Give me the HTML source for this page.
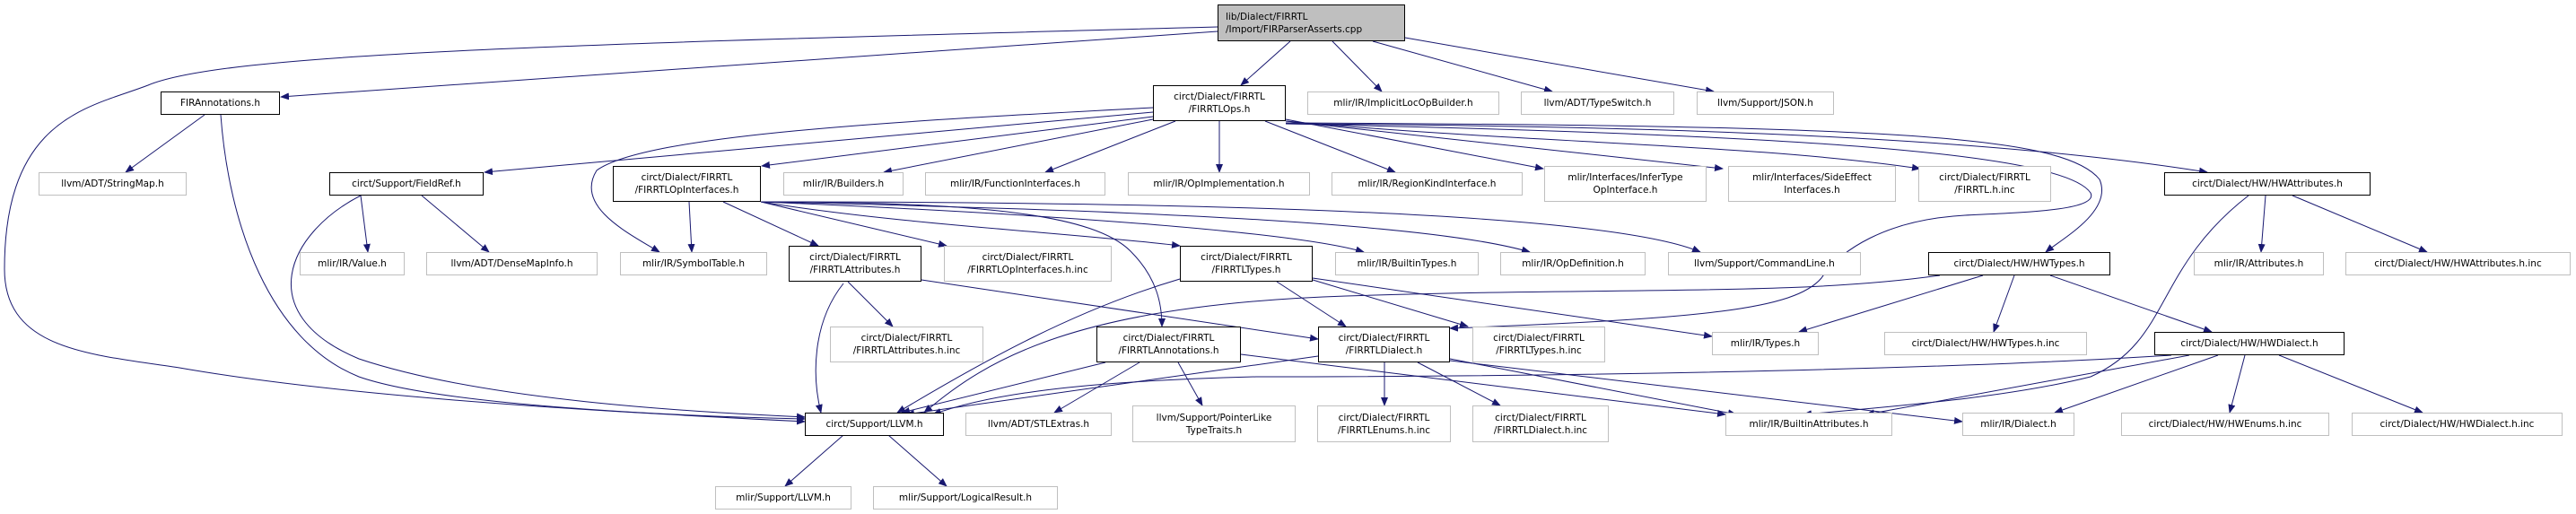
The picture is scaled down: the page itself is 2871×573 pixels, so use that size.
<!DOCTYPE html>
<html><head><meta charset="utf-8"><style>
html,body{margin:0;padding:0;background:#fff;}
#c{position:relative;width:2871px;height:573px;overflow:hidden;font-family:"DejaVu Sans","Liberation Sans",sans-serif;font-size:10.5px;color:#000;}
.n{position:absolute;box-sizing:border-box;border:1px solid #000;background:#fff;display:flex;align-items:center;justify-content:center;text-align:center;line-height:14px;white-space:nowrap;}
.g{border-color:#bfbfbf;}
.r{background:#bfbfbf;justify-content:flex-start;text-align:left;padding-left:8px;}
svg{position:absolute;left:0;top:0;}
</style></head><body><div id="c">
<svg width="2871" height="573" viewBox="0 0 2871 573">
<defs><marker id="a" markerWidth="10" markerHeight="8" refX="9" refY="4" orient="auto" markerUnits="userSpaceOnUse"><path d="M0,0 L10,4 L0,8 z" fill="#191970"/></marker></defs>
<g fill="none" stroke="#191970" stroke-width="1" marker-end="url(#a)">
<path d="M1438,46 L1383,95"/>
<path d="M1485,46 L1540,102"/>
<path d="M1530,46 L1730,102"/>
<path d="M1566,42 L1910,102"/>
<path d="M1357,35 L313,108"/>
<path d="M1357,30 C600,50 250,60 165,95 C100,120 5,130 5,300 C5,390 100,395 200,410 C400,445 700,460 897,470"/>
<path d="M228,128 L140,192"/>
<path d="M246,128 C255,250 300,380 400,420 C500,455 800,465 897,467"/>
<path d="M1285,125 L540,192"/>
<path d="M1285,130 L849,185"/>
<path d="M1285,133 L985,192"/>
<path d="M1310,135 L1165,192"/>
<path d="M1359,135 L1359,192"/>
<path d="M1410,135 L1555,192"/>
<path d="M1433,133 L1720,188"/>
<path d="M1433,135 L1920,188"/>
<path d="M1433,135 C1700,160 1950,160 2140,188"/>
<path d="M1433,138 C1800,140 2200,150 2460,192"/>
<path d="M1285,120 C1000,135 720,150 665,190 C640,230 700,260 735,281"/>
<path d="M1433,137 C2100,140 2300,150 2340,200 C2355,235 2300,265 2280,281"/>
<path d="M1433,138 C2000,150 2300,170 2330,215 C2340,235 2250,237 2190,240 C2100,245 2050,280 2030,310 C2000,345 1900,355 1616,366"/>
<path d="M402,218 L410,281"/>
<path d="M470,218 L545,281"/>
<path d="M402,218 C320,260 280,350 400,400 C550,450 800,460 897,465"/>
<path d="M768,225 L771,281"/>
<path d="M806,225 L912,274"/>
<path d="M848,225 L1055,274"/>
<path d="M848,225 C1000,250 1200,260 1315,274"/>
<path d="M848,225 C1200,240 1450,260 1520,281"/>
<path d="M848,225 C1300,235 1600,250 1705,281"/>
<path d="M848,225 C1400,225 1800,240 1895,281"/>
<path d="M848,225 C1100,225 1220,240 1260,280 C1290,310 1295,340 1295,364"/>
<path d="M945,314 L995,364"/>
<path d="M1027,312 L1469,378"/>
<path d="M940,316 C905,360 905,420 915,460"/>
<path d="M1315,311 C1200,345 1100,400 1000,460"/>
<path d="M1423,314 L1500,364"/>
<path d="M1463,312 L1636,364"/>
<path d="M1463,310 L1908,375"/>
<path d="M1232,404 L1005,460"/>
<path d="M1270,404 L1175,460"/>
<path d="M1313,404 L1340,452"/>
<path d="M1383,395 L1923,462"/>
<path d="M1469,397 L1010,462"/>
<path d="M1543,404 L1543,452"/>
<path d="M1580,404 L1672,452"/>
<path d="M1616,400 L1935,462"/>
<path d="M1616,402 L2187,470"/>
<path d="M2506,218 C2400,300 2420,380 2330,420 C2250,440 2150,450 2010,462"/>
<path d="M2525,218 L2520,281"/>
<path d="M2555,218 L2705,281"/>
<path d="M2210,307 L2005,370"/>
<path d="M2245,307 L2222,370"/>
<path d="M2285,307 L2465,370"/>
<path d="M2162,307 C2000,330 1800,320 1500,330 C1200,340 1100,400 1030,460"/>
<path d="M2420,396 C2200,410 1800,420 1400,420 C1200,425 1100,440 1040,462"/>
<path d="M2440,396 L2080,462"/>
<path d="M2472,396 L2290,460"/>
<path d="M2502,396 L2485,460"/>
<path d="M2540,396 L2700,460"/>
<path d="M940,485 L875,542"/>
<path d="M990,485 L1055,542"/>
</g>
</svg>
<div class="n r" style="left:1357px;top:5px;width:209px;height:41px;">lib/Dialect/FIRRTL<br>/Import/FIRParserAsserts.cpp</div>
<div class="n" style="left:179px;top:102px;width:133px;height:26px;">FIRAnnotations.h</div>
<div class="n" style="left:1285px;top:95px;width:148px;height:40px;">circt/Dialect/FIRRTL<br>/FIRRTLOps.h</div>
<div class="n g" style="left:1457px;top:102px;width:214px;height:26px;">mlir/IR/ImplicitLocOpBuilder.h</div>
<div class="n g" style="left:1695px;top:102px;width:171px;height:26px;">llvm/ADT/TypeSwitch.h</div>
<div class="n g" style="left:1891px;top:102px;width:153px;height:26px;">llvm/Support/JSON.h</div>
<div class="n g" style="left:43px;top:192px;width:165px;height:26px;">llvm/ADT/StringMap.h</div>
<div class="n" style="left:367px;top:192px;width:172px;height:26px;">circt/Support/FieldRef.h</div>
<div class="n" style="left:683px;top:185px;width:165px;height:40px;">circt/Dialect/FIRRTL<br>/FIRRTLOpInterfaces.h</div>
<div class="n g" style="left:873px;top:192px;width:134px;height:26px;">mlir/IR/Builders.h</div>
<div class="n g" style="left:1031px;top:192px;width:201px;height:26px;">mlir/IR/FunctionInterfaces.h</div>
<div class="n g" style="left:1257px;top:192px;width:203px;height:26px;">mlir/IR/OpImplementation.h</div>
<div class="n g" style="left:1484px;top:192px;width:213px;height:26px;">mlir/IR/RegionKindInterface.h</div>
<div class="n g" style="left:1721px;top:185px;width:181px;height:40px;">mlir/Interfaces/InferType<br>OpInterface.h</div>
<div class="n g" style="left:1926px;top:185px;width:187px;height:40px;">mlir/Interfaces/SideEffect<br>Interfaces.h</div>
<div class="n g" style="left:2138px;top:185px;width:148px;height:40px;">circt/Dialect/FIRRTL<br>/FIRRTL.h.inc</div>
<div class="n" style="left:2412px;top:192px;width:230px;height:26px;">circt/Dialect/HW/HWAttributes.h</div>
<div class="n g" style="left:334px;top:281px;width:117px;height:26px;">mlir/IR/Value.h</div>
<div class="n g" style="left:475px;top:281px;width:191px;height:26px;">llvm/ADT/DenseMapInfo.h</div>
<div class="n g" style="left:691px;top:281px;width:164px;height:26px;">mlir/IR/SymbolTable.h</div>
<div class="n" style="left:879px;top:274px;width:148px;height:40px;">circt/Dialect/FIRRTL<br>/FIRRTLAttributes.h</div>
<div class="n g" style="left:1052px;top:274px;width:187px;height:40px;">circt/Dialect/FIRRTL<br>/FIRRTLOpInterfaces.h.inc</div>
<div class="n" style="left:1315px;top:274px;width:148px;height:40px;">circt/Dialect/FIRRTL<br>/FIRRTLTypes.h</div>
<div class="n g" style="left:1488px;top:281px;width:160px;height:26px;">mlir/IR/BuiltinTypes.h</div>
<div class="n g" style="left:1672px;top:281px;width:162px;height:26px;">mlir/IR/OpDefinition.h</div>
<div class="n g" style="left:1859px;top:281px;width:215px;height:26px;">llvm/Support/CommandLine.h</div>
<div class="n" style="left:2149px;top:281px;width:203px;height:26px;">circt/Dialect/HW/HWTypes.h</div>
<div class="n g" style="left:2445px;top:281px;width:145px;height:26px;">mlir/IR/Attributes.h</div>
<div class="n g" style="left:2614px;top:281px;width:251px;height:26px;">circt/Dialect/HW/HWAttributes.h.inc</div>
<div class="n g" style="left:925px;top:364px;width:171px;height:40px;">circt/Dialect/FIRRTL<br>/FIRRTLAttributes.h.inc</div>
<div class="n" style="left:1222px;top:364px;width:161px;height:40px;">circt/Dialect/FIRRTL<br>/FIRRTLAnnotations.h</div>
<div class="n" style="left:1469px;top:364px;width:147px;height:40px;">circt/Dialect/FIRRTL<br>/FIRRTLDialect.h</div>
<div class="n g" style="left:1641px;top:364px;width:148px;height:40px;">circt/Dialect/FIRRTL<br>/FIRRTLTypes.h.inc</div>
<div class="n g" style="left:1908px;top:370px;width:119px;height:26px;">mlir/IR/Types.h</div>
<div class="n g" style="left:2100px;top:370px;width:226px;height:26px;">circt/Dialect/HW/HWTypes.h.inc</div>
<div class="n" style="left:2401px;top:370px;width:212px;height:26px;">circt/Dialect/HW/HWDialect.h</div>
<div class="n" style="left:897px;top:460px;width:155px;height:26px;">circt/Support/LLVM.h</div>
<div class="n g" style="left:1076px;top:460px;width:163px;height:26px;">llvm/ADT/STLExtras.h</div>
<div class="n g" style="left:1262px;top:452px;width:182px;height:41px;">llvm/Support/PointerLike<br>TypeTraits.h</div>
<div class="n g" style="left:1468px;top:452px;width:149px;height:41px;">circt/Dialect/FIRRTL<br>/FIRRTLEnums.h.inc</div>
<div class="n g" style="left:1641px;top:452px;width:152px;height:41px;">circt/Dialect/FIRRTL<br>/FIRRTLDialect.h.inc</div>
<div class="n g" style="left:1923px;top:460px;width:186px;height:26px;">mlir/IR/BuiltinAttributes.h</div>
<div class="n g" style="left:2187px;top:460px;width:125px;height:26px;">mlir/IR/Dialect.h</div>
<div class="n g" style="left:2364px;top:460px;width:232px;height:26px;">circt/Dialect/HW/HWEnums.h.inc</div>
<div class="n g" style="left:2621px;top:460px;width:235px;height:26px;">circt/Dialect/HW/HWDialect.h.inc</div>
<div class="n g" style="left:797px;top:542px;width:152px;height:26px;">mlir/Support/LLVM.h</div>
<div class="n g" style="left:973px;top:542px;width:206px;height:26px;">mlir/Support/LogicalResult.h</div>
</div></body></html>
